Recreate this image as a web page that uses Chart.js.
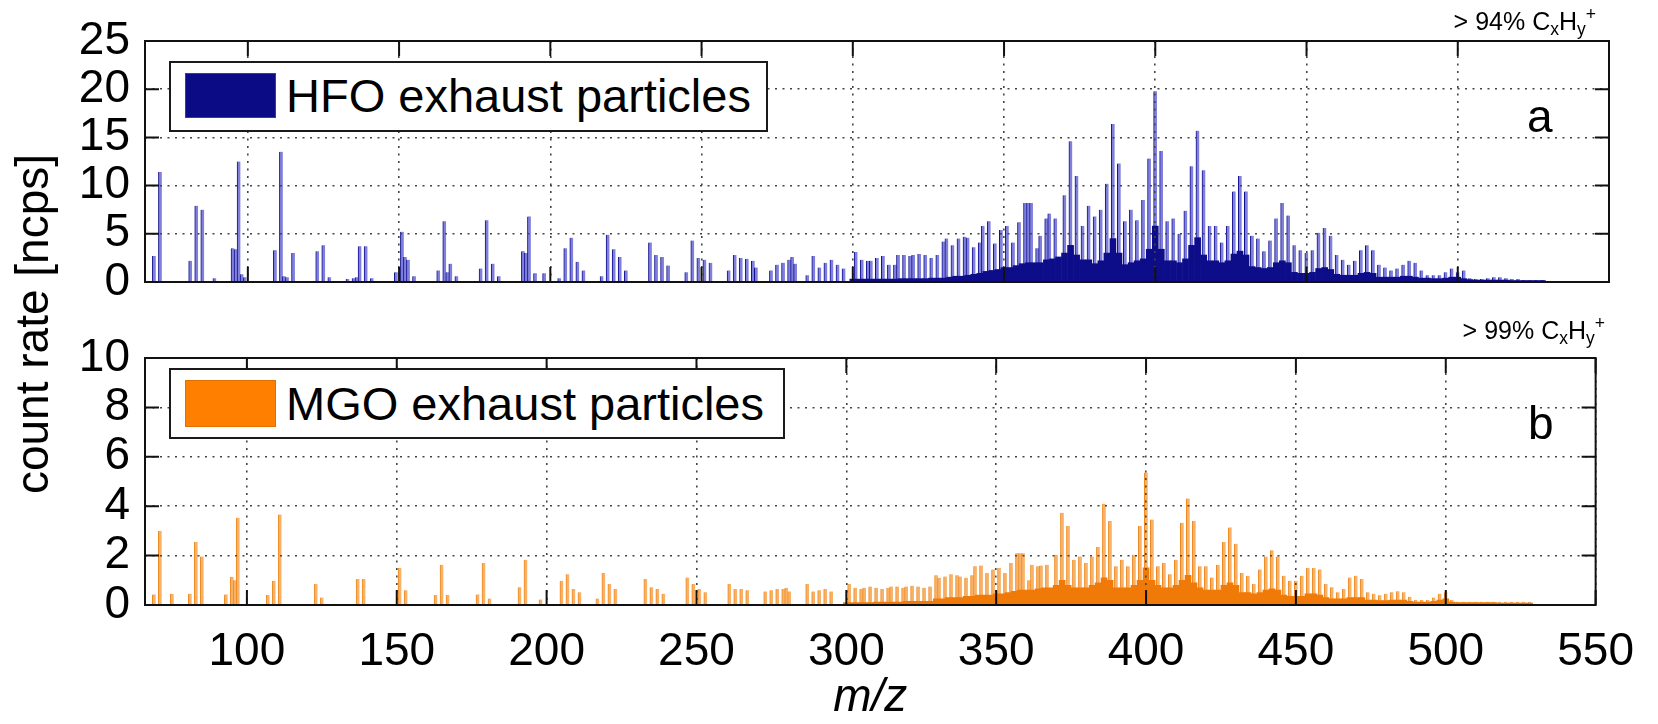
<!DOCTYPE html>
<html>
<head>
<meta charset="utf-8">
<script src="https://cdn.jsdelivr.net/npm/chart.js@4.4.1/dist/chart.umd.min.js"></script>
<style>
  body { margin: 0; background: #fff; }
  #page { position: relative; width: 1658px; height: 724px; overflow: hidden;
          font-family: "Liberation Sans", Arial, Helvetica, sans-serif; color: #000; }
  canvas { position: absolute; left: 0; }
  #topChart { top: 0; }
  #bottomChart { top: 320px; }
  .ylabel { position: absolute; left: -218px; top: 301px; width: 500px; height: 46px;
            line-height: 46px; font-size: 46px; text-align: center; transform: rotate(-90deg); }
  .legend { position: absolute; left: 169px; height: 71px; box-sizing: border-box;
            border: 2px solid #1a1a1a; background: #fff; }
  .legend .patch { position: absolute; left: 14px; top: 10px; width: 91px; }
  .legend .ltext { position: absolute; left: 115px; top: 9px; font-size: 47px; line-height: 47px; white-space: nowrap; }
  .note { position: absolute; font-size: 25px; line-height: 25px; white-space: nowrap; }
  .note sub, .note sup { font-size: 0.7em; vertical-align: baseline; position: relative; }
  .note sub { top: 0.3em; }
  .note sup { top: -0.55em; }
  .panel { position: absolute; font-size: 46px; line-height: 46px; }
</style>
</head>
<body>
<div id="page">
  <canvas id="topChart" width="1658" height="320"></canvas>
  <canvas id="bottomChart" width="1658" height="404"></canvas>
  <div class="ylabel">count rate [ncps]</div>
  <div class="legend" style="top:61px;width:599px;">
    <span class="patch" style="height:45px;background:#0b0b86;border:1px solid #3a3aa0;box-sizing:border-box;"></span>
    <span class="ltext">HFO exhaust particles</span>
  </div>
  <div class="legend" style="top:368px;width:616px;">
    <span class="patch" style="height:47px;background:#ff8000;border:1px solid #e07000;box-sizing:border-box;"></span>
    <span class="ltext" style="top:10px;">MGO exhaust particles</span>
  </div>
  <div class="note" style="right:62px;top:9px;">&gt; 94% C<sub>x</sub>H<sub>y</sub><sup>+</sup></div>
  <div class="note" style="right:53px;top:318px;">&gt; 99% C<sub>x</sub>H<sub>y</sub><sup>+</sup></div>
  <div class="panel" style="left:1527px;top:93px;">a</div>
  <div class="panel" style="left:1528px;top:400px;">b</div>
</div>
<script>
// tick labels
const mzTicks = [100, 150, 200, 250, 300, 350, 400, 450, 500, 550];
const hfoTicks = [0, 5, 10, 15, 20, 25];
const mgoTicks = [0, 2, 4, 6, 8, 10];

// HFO spectrum, [m/z, count rate]
const hfoPeaks = [
  [69, 2.7], [71, 11.4], [81, 2.2], [83, 7.9], [85, 7.5], [89, 0.4], [95, 3.5], [96, 3.4],
  [97, 12.5], [98, 0.8], [99, 0.5], [109, 3.3], [111, 13.5], [112, 0.6], [113, 0.5], [115, 3.0],
  [123, 3.2], [125, 3.8], [127, 0.5], [133, 0.3], [135, 0.4], [136, 0.5], [137, 3.7], [139, 3.7],
  [141, 0.4], [149, 1.0], [151, 5.2], [152, 2.6], [153, 2.3], [155, 0.6], [163, 1.2], [165, 6.3],
  [166, 1.0], [167, 1.9], [169, 0.6], [177, 1.4], [179, 6.4], [181, 1.9], [183, 0.6], [191, 3.2],
  [192, 3.0], [193, 6.8], [195, 0.9], [198, 0.9], [203, 0.4], [205, 3.5], [207, 4.6], [209, 2.1],
  [211, 1.2], [217, 0.6], [219, 4.9], [221, 3.4], [223, 2.6], [225, 1.2], [233, 4.1], [235, 2.8],
  [237, 2.6], [239, 1.7], [245, 1.0], [247, 4.3], [249, 2.5], [251, 2.3], [253, 2.0], [259, 1.2],
  [261, 2.8], [263, 2.5], [265, 2.4], [267, 2.2], [268, 1.5], [273, 1.2], [275, 1.8], [277, 2.0],
  [279, 2.3], [280, 2.6], [281, 1.9], [285, 0.7], [287, 2.7], [289, 1.5], [291, 2.0], [293, 2.3],
  [295, 1.8], [297, 1.4], [301, 3.1], [303, 2.3], [305, 2.2], [306, 2.2], [308, 2.5], [310, 2.7],
  [312, 1.8], [314, 1.8], [315, 2.8], [317, 2.8], [319, 2.7], [320, 2.8], [322, 2.9], [324, 2.8],
  [326, 2.5], [328, 2.8], [330, 4.2], [331, 4.5], [333, 3.8], [335, 4.5], [337, 4.7], [338, 4.6],
  [340, 3.6], [342, 4.1], [343, 5.8], [345, 6.3], [347, 4.0], [349, 5.4], [351, 5.8], [353, 4.1],
  [355, 6.2], [357, 8.2], [358, 8.2], [359, 8.2], [361, 3.5], [362, 4.8], [364, 6.6], [365, 7.1],
  [367, 6.6], [370, 9.0], [372, 14.6], [374, 11.0], [376, 5.8], [378, 7.9], [380, 6.8], [382, 7.5],
  [384, 10.2], [386, 16.4], [388, 12.3], [390, 6.3], [392, 7.5], [394, 6.4], [396, 8.5], [398, 12.8],
  [400, 19.8], [402, 13.6], [404, 6.3], [406, 6.6], [408, 5.0], [410, 7.4], [412, 12.0], [414, 15.7],
  [416, 11.6], [418, 5.8], [420, 5.8], [422, 4.1], [424, 5.8], [426, 9.4], [428, 11.0], [430, 9.4],
  [432, 4.8], [434, 4.5], [436, 3.2], [438, 4.3], [440, 6.6], [442, 8.2], [444, 6.9], [446, 3.8],
  [448, 3.3], [450, 3.0], [452, 3.3], [454, 5.1], [456, 5.6], [458, 4.8], [460, 2.8], [462, 2.3],
  [464, 1.8], [466, 2.2], [468, 3.3], [470, 3.8], [472, 3.3], [474, 1.8], [476, 1.5], [478, 1.2],
  [480, 1.4], [482, 1.8], [484, 2.2], [486, 2.0], [488, 1.2], [490, 0.7], [492, 0.7], [494, 0.7],
  [496, 1.0], [498, 1.4], [500, 1.0], [502, 1.2], [504, 0.4], [506, 0.3], [508, 0.3], [510, 0.4],
  [512, 0.5], [514, 0.5], [516, 0.4], [518, 0.3], [520, 0.3], [522, 0.2], [524, 0.2], [526, 0.2],
  [528, 0.2]
];

// dark lower band of panel a
const hfoBase = [
  [300, 0.3], [302, 0.3], [304, 0.3], [306, 0.3], [308, 0.3], [310, 0.3], [312, 0.3], [314, 0.3],
  [316, 0.35], [318, 0.35], [320, 0.35], [322, 0.35], [324, 0.35], [326, 0.4], [328, 0.4],
  [330, 0.4], [332, 0.5], [334, 0.6], [336, 0.6], [338, 0.7], [340, 0.8], [342, 0.9], [344, 1.1],
  [346, 1.2], [348, 1.3], [350, 1.5], [352, 1.5], [354, 1.7], [356, 1.9], [358, 2.0], [360, 2.0],
  [362, 2.0], [364, 2.3], [366, 2.4], [368, 2.6], [370, 3.0], [372, 3.8], [374, 2.8], [376, 2.3],
  [378, 2.3], [380, 1.9], [382, 2.2], [384, 3.0], [386, 4.5], [388, 3.0], [390, 1.8], [392, 2.0],
  [394, 2.2], [396, 2.4], [398, 3.4], [400, 5.8], [402, 3.4], [404, 2.2], [406, 2.2], [408, 2.0],
  [410, 2.4], [412, 3.8], [414, 4.6], [416, 2.8], [418, 2.2], [420, 2.2], [422, 2.0], [424, 2.2],
  [426, 2.9], [428, 3.2], [430, 2.8], [432, 1.6], [434, 1.5], [436, 1.4], [438, 1.5], [440, 2.0],
  [442, 2.2], [444, 2.0], [446, 1.0], [448, 0.9], [450, 0.9], [452, 1.0], [454, 1.4], [456, 1.5],
  [458, 1.3], [460, 0.8], [462, 0.7], [464, 0.7], [466, 0.7], [468, 0.9], [470, 1.0], [472, 0.9],
  [474, 0.5], [476, 0.5], [478, 0.5], [480, 0.5], [482, 0.6], [484, 0.6], [486, 0.5], [488, 0.4],
  [490, 0.4], [492, 0.35], [494, 0.35], [496, 0.4], [498, 0.5], [500, 0.5], [502, 0.35], [504, 0.25],
  [506, 0.2], [508, 0.2], [510, 0.2], [512, 0.2], [514, 0.2], [516, 0.2], [518, 0.15], [520, 0.15],
  [522, 0.15], [524, 0.15], [526, 0.15], [528, 0.15]
];

// MGO spectrum, [m/z, count rate]
const mgoPeaks = [
  [69, 0.43], [71, 3.0], [75, 0.46], [81, 0.46], [83, 2.55], [85, 1.96], [93, 0.43], [95, 1.14],
  [96, 1.0], [97, 3.53], [107, 0.4], [109, 0.98], [111, 3.66], [123, 0.85], [125, 0.3], [137, 1.05],
  [139, 1.05], [151, 1.5], [153, 0.6], [163, 0.4], [165, 1.63], [167, 0.4], [177, 0.43], [179, 1.7],
  [181, 0.26], [191, 0.72], [193, 1.83], [198, 0.22], [205, 0.98], [207, 1.24], [209, 0.65], [211, 0.52],
  [217, 0.26], [219, 1.3], [221, 0.85], [223, 0.65], [233, 1.05], [235, 0.72], [237, 0.65], [239, 0.46],
  [247, 1.11], [249, 0.85], [251, 0.65], [253, 0.52], [261, 0.85], [263, 0.65], [265, 0.65], [267, 0.6],
  [273, 0.55], [275, 0.6], [277, 0.65], [279, 0.65], [280, 0.7], [281, 0.55], [287, 0.85], [289, 0.55],
  [291, 0.6], [293, 0.65], [295, 0.55], [301, 0.85], [303, 0.7], [305, 0.65], [306, 0.7], [308, 0.75],
  [310, 0.7], [312, 0.65], [314, 0.7], [315, 0.75], [317, 0.75], [319, 0.7], [320, 0.75], [322, 0.78],
  [324, 0.75], [326, 0.7], [328, 0.75], [330, 1.2], [331, 1.1], [333, 1.15], [335, 1.24], [337, 1.2],
  [338, 1.15], [340, 1.1], [342, 1.2], [343, 1.57], [345, 1.6], [347, 1.3], [349, 1.44], [351, 1.5],
  [353, 1.3], [355, 1.7], [357, 2.1], [358, 2.1], [359, 2.1], [361, 1.0], [362, 1.63], [364, 1.57],
  [365, 1.6], [367, 1.63], [370, 2.03], [372, 3.73], [374, 3.2], [376, 1.83], [378, 1.96], [380, 1.7],
  [382, 1.96], [384, 2.35], [386, 4.1], [388, 3.4], [390, 1.57], [392, 1.83], [394, 1.57], [396, 2.03],
  [398, 3.2], [400, 5.36], [402, 3.46], [404, 1.57], [406, 1.7], [408, 1.24], [410, 1.83], [412, 3.33],
  [414, 4.31], [416, 3.4], [418, 1.57], [420, 1.57], [422, 1.11], [424, 1.63], [426, 2.55], [428, 3.14],
  [430, 2.48], [432, 1.3], [434, 1.18], [436, 0.85], [438, 1.44], [440, 1.96], [442, 2.22], [444, 1.96],
  [446, 1.18], [448, 0.98], [450, 0.98], [452, 1.18], [454, 1.5], [456, 1.5], [458, 1.44], [460, 0.85],
  [462, 0.72], [464, 0.52], [466, 0.65], [468, 1.11], [470, 1.18], [472, 1.05], [474, 0.52], [476, 0.46],
  [478, 0.39], [480, 0.46], [482, 0.52], [484, 0.56], [486, 0.52], [488, 0.33], [490, 0.2], [492, 0.2],
  [494, 0.2], [496, 0.3], [498, 0.46], [500, 0.52], [502, 0.2], [504, 0.13], [506, 0.13], [508, 0.13],
  [510, 0.13], [512, 0.13], [514, 0.13], [516, 0.13], [518, 0.13], [520, 0.13], [522, 0.13], [524, 0.13],
  [526, 0.13], [528, 0.13]
];

// deep orange lower band of panel b
const mgoBase = [
  [300, 0.1], [302, 0.1], [304, 0.1], [306, 0.1], [308, 0.1], [310, 0.12], [312, 0.12], [314, 0.12],
  [316, 0.12], [318, 0.12], [320, 0.15], [322, 0.15], [324, 0.15], [326, 0.15], [328, 0.15],
  [330, 0.25], [332, 0.25], [334, 0.3], [336, 0.3], [338, 0.3], [340, 0.35], [342, 0.35], [344, 0.4],
  [346, 0.4], [348, 0.4], [350, 0.45], [352, 0.45], [354, 0.5], [356, 0.55], [358, 0.6], [360, 0.6],
  [362, 0.6], [364, 0.65], [366, 0.7], [368, 0.7], [370, 0.8], [372, 1.0], [374, 0.8], [376, 0.7],
  [378, 0.7], [380, 0.7], [382, 0.8], [384, 0.9], [386, 1.1], [388, 1.0], [390, 0.7], [392, 0.7],
  [394, 0.7], [396, 0.8], [398, 1.0], [400, 1.5], [402, 1.0], [404, 0.8], [406, 0.7], [408, 0.7],
  [410, 0.8], [412, 1.0], [414, 1.2], [416, 0.9], [418, 0.7], [420, 0.6], [422, 0.6], [424, 0.6],
  [426, 0.8], [428, 0.9], [430, 0.8], [432, 0.5], [434, 0.5], [436, 0.45], [438, 0.5], [440, 0.6],
  [442, 0.65], [444, 0.6], [446, 0.4], [448, 0.35], [450, 0.35], [452, 0.35], [454, 0.45], [456, 0.45],
  [458, 0.4], [460, 0.3], [462, 0.25], [464, 0.25], [466, 0.25], [468, 0.3], [470, 0.3], [472, 0.3],
  [474, 0.2], [476, 0.2], [478, 0.18], [480, 0.18], [482, 0.2], [484, 0.2], [486, 0.2], [488, 0.15],
  [490, 0.12], [492, 0.12], [494, 0.12], [496, 0.15], [498, 0.2], [500, 0.25], [502, 0.12], [504, 0.1],
  [506, 0.1], [508, 0.1], [510, 0.1], [512, 0.1], [514, 0.1], [516, 0.1], [518, 0.08], [520, 0.08],
  [522, 0.08], [524, 0.08], [526, 0.08], [528, 0.08]
];

const FONT = '"Liberation Sans", Arial, Helvetica, sans-serif';
const GRID = "#444";

function toPoints(pairs) {
  return pairs.map(([x, y]) => ({ x, y }));
}

// box round the plot plus MATLAB-style inward tick marks
const framePlugin = {
  id: "frame",
  afterDraw(chart) {
    const { ctx, chartArea: a, scales: { x, y } } = chart;
    ctx.save();
    ctx.strokeStyle = "#111";
    ctx.lineWidth = 2;
    ctx.beginPath();
    for (const t of x.ticks) {
      const px = x.getPixelForValue(t.value);
      ctx.moveTo(px, a.bottom);
      ctx.lineTo(px, a.bottom - 15);
      ctx.moveTo(px, a.top);
      ctx.lineTo(px, a.top + 15);
    }
    for (const t of y.ticks) {
      const py = y.getPixelForValue(t.value);
      ctx.moveTo(a.left, py);
      ctx.lineTo(a.left + 14, py);
      ctx.moveTo(a.right, py);
      ctx.lineTo(a.right - 14, py);
    }
    ctx.stroke();
    ctx.strokeRect(a.left, a.top, a.right - a.left, a.bottom - a.top);
    ctx.restore();
  },
};

function panelOptions(yTicks, showX, padding) {
  return {
    responsive: false,
    animation: false,
    events: [],
    layout: { padding },
    plugins: { legend: { display: false }, tooltip: { enabled: false } },
    scales: {
      x: {
        type: "linear",
        min: 66,
        max: 550,
        offset: false,
        afterBuildTicks: (s) => { s.ticks = mzTicks.map((v) => ({ value: v })); },
        afterFit: (s) => { s.height = showX ? 119 : 0; },
        grid: { color: GRID, lineWidth: 1.6, offset: false, drawTicks: false, z: 1 },
        border: { display: false, dash: [2, 5.5] },
        ticks: {
          display: showX,
          padding: 24,
          color: "#000",
          maxRotation: 0,
          autoSkip: false,
          font: { family: FONT, size: 46, lineHeight: 1 },
        },
        title: {
          display: showX,
          text: "m/z",
          color: "#000",
          padding: { top: 0, bottom: 3 },
          font: { family: FONT, size: 46, style: "italic", lineHeight: 1 },
        },
      },
      y: {
        min: yTicks[0],
        max: yTicks[yTicks.length - 1],
        afterBuildTicks: (s) => { s.ticks = yTicks.map((v) => ({ value: v })); },
        afterFit: (s) => { s.width = 145; },
        grid: { color: GRID, lineWidth: 1.6, drawTicks: false, z: 1 },
        border: { display: false, dash: [2, 5.5] },
        ticks: {
          padding: 15,
          color: "#000",
          font: { family: FONT, size: 46, lineHeight: 1 },
        },
      },
    },
  };
}

function spectrumChart(canvasId, peaks, base, colors, yTicks, showX, padding) {
  return new Chart(document.getElementById(canvasId), {
    type: "bar",
    data: {
      datasets: [
        {
          data: toPoints(base),
          backgroundColor: colors.dark,
          barThickness: 6,
          grouped: false,
          order: 0,
        },
        {
          data: toPoints(peaks),
          backgroundColor: colors.light,
          borderColor: colors.edge,
          borderWidth: { left: 1, right: 0, top: 0, bottom: 0 },
          barThickness: 3.4,
          grouped: false,
          order: 1,
        },
      ],
    },
    options: panelOptions(yTicks, showX, padding),
    plugins: [framePlugin],
  });
}

spectrumChart(
  "topChart", hfoPeaks, hfoBase,
  { light: "#8080dc", edge: "#10108c", dark: "#0d0d8a" },
  hfoTicks, false, { top: 41, right: 49, bottom: 24, left: 0 }
);

spectrumChart(
  "bottomChart", mgoPeaks, mgoBase,
  { light: "#f8b268", edge: "#ee8a20", dark: "#f07a08" },
  mgoTicks, true, { top: 30, right: 49, bottom: 0, left: 0 }
);
</script>
</body>
</html>
